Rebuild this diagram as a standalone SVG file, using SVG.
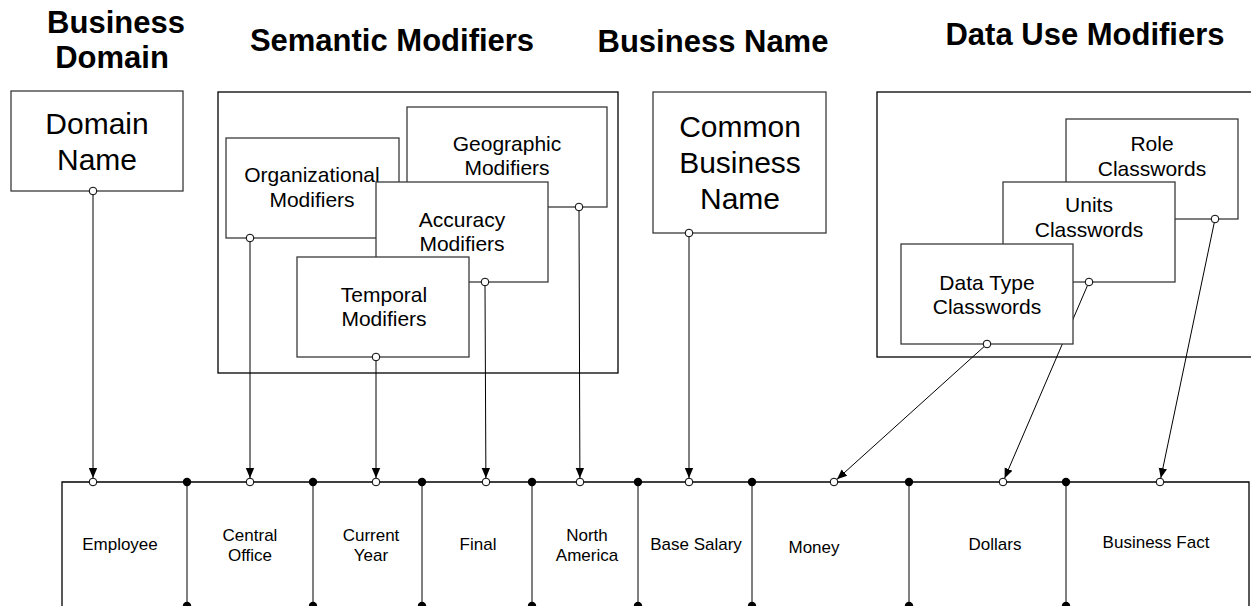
<svg xmlns="http://www.w3.org/2000/svg" width="1251" height="606" viewBox="0 0 1251 606">
<style>
text{font-family:"Liberation Sans",Arial,sans-serif;fill:#000;text-anchor:middle}
.h{font-size:31px;font-weight:bold}
.big{font-size:30px}
.mid{font-size:21px}
.sm{font-size:17px}
.box{fill:#fff;stroke:#3a3a3a;stroke-width:1.3}
.outer{fill:#fff;stroke:#000;stroke-width:1.3}
.con{stroke:#000;stroke-width:1;fill:none}
.oc{fill:#fff;stroke:#000;stroke-width:1}
.fd{fill:#000}
.row{fill:none;stroke:#000;stroke-width:1.3}
</style>
<defs>
<marker id="arr" viewBox="0 0 10 10" refX="10" refY="5" markerWidth="10" markerHeight="10" markerUnits="userSpaceOnUse" orient="auto">
<path d="M0,0.8 L10,5 L0,9.2 Z" fill="#000"/>
</marker>
</defs>
<rect width="1251" height="606" fill="#fff"/>
<g id="headers">
<text class="h" x="116" y="33">Business</text>
<text class="h" x="112" y="68">Domain</text>
<text class="h" x="392" y="51">Semantic Modifiers</text>
<text class="h" x="713" y="52">Business Name</text>
<text class="h" x="1085" y="45">Data Use Modifiers</text>
</g>
<g id="semantic-group"><rect class="outer" x="218" y="92" width="400" height="281"/></g>
<g id="datause-group"><rect class="outer" x="877" y="92" width="420" height="265"/></g>
<g id="connectors">
<line class="con" x1="93" y1="195" x2="93" y2="478" marker-end="url(#arr)"/>
<line class="con" x1="250" y1="242" x2="250" y2="478" marker-end="url(#arr)"/>
<line class="con" x1="376" y1="361" x2="376" y2="478" marker-end="url(#arr)"/>
<line class="con" x1="485" y1="286" x2="485.9" y2="478" marker-end="url(#arr)"/>
<line class="con" x1="579" y1="211" x2="579.9" y2="478" marker-end="url(#arr)"/>
<line class="con" x1="689" y1="237" x2="689" y2="478" marker-end="url(#arr)"/>
<line class="con" x1="984" y1="346.7" x2="837" y2="479.3" marker-end="url(#arr)"/>
<line class="con" x1="1087.4" y1="285.7" x2="1004.6" y2="478.3" marker-end="url(#arr)"/>
<line class="con" x1="1214.2" y1="222.9" x2="1160.8" y2="478.1" marker-end="url(#arr)"/>
</g>
<g id="domain-name">
<rect class="box" x="11" y="91" width="172" height="100"/>
<text class="big" x="97" y="134">Domain</text>
<text class="big" x="97" y="170">Name</text>
<circle class="oc" cx="93" cy="191" r="3.8"/>
</g>
<g id="geographic">
<rect class="box" x="407" y="107" width="200" height="100"/>
<text class="mid" x="507" y="151">Geographic</text>
<text class="mid" x="507" y="175">Modifiers</text>
<circle class="oc" cx="579" cy="207" r="3.8"/>
</g>
<g id="organizational">
<rect class="box" x="226" y="138" width="173" height="100"/>
<text class="mid" x="312" y="182">Organizational</text>
<text class="mid" x="312" y="207">Modifiers</text>
<circle class="oc" cx="250" cy="238" r="3.8"/>
</g>
<g id="accuracy">
<rect class="box" x="376" y="182" width="172" height="100"/>
<text class="mid" x="462" y="227">Accuracy</text>
<text class="mid" x="462" y="251">Modifiers</text>
<circle class="oc" cx="485" cy="282" r="3.8"/>
</g>
<g id="temporal">
<rect class="box" x="297" y="257" width="172" height="100"/>
<text class="mid" x="384" y="302">Temporal</text>
<text class="mid" x="384" y="326">Modifiers</text>
<circle class="oc" cx="376" cy="357" r="3.8"/>
</g>
<g id="common-business-name">
<rect class="box" x="653" y="92" width="173" height="141"/>
<text class="big" x="740" y="137">Common</text>
<text class="big" x="740" y="173">Business</text>
<text class="big" x="740" y="209">Name</text>
<circle class="oc" cx="689" cy="233" r="3.8"/>
</g>
<g id="role-classwords">
<rect class="box" x="1066" y="119" width="172" height="100"/>
<text class="mid" x="1152" y="151">Role</text>
<text class="mid" x="1152" y="176">Classwords</text>
<circle class="oc" cx="1215" cy="219" r="3.8"/>
</g>
<g id="units-classwords">
<rect class="box" x="1003" y="182" width="172" height="100"/>
<text class="mid" x="1089" y="212">Units</text>
<text class="mid" x="1089" y="237">Classwords</text>
<circle class="oc" cx="1089" cy="282" r="3.8"/>
</g>
<g id="datatype-classwords">
<rect class="box" x="901" y="244" width="172" height="100"/>
<text class="mid" x="987" y="290">Data Type</text>
<text class="mid" x="987" y="314">Classwords</text>
<circle class="oc" cx="987" cy="344" r="3.8"/>
</g>
<g id="business-term-row">
<path class="row" d="M62,606 V482 H1249 V606"/>
<g class="con">
<line x1="187" y1="482" x2="187" y2="606"/>
<line x1="313" y1="482" x2="313" y2="606"/>
<line x1="422" y1="482" x2="422" y2="606"/>
<line x1="532" y1="482" x2="532" y2="606"/>
<line x1="638" y1="482" x2="638" y2="606"/>
<line x1="752" y1="482" x2="752" y2="606"/>
<line x1="909" y1="482" x2="909" y2="606"/>
<line x1="1066" y1="482" x2="1066" y2="606"/>
</g>
<g class="fd">
<circle cx="187" cy="482" r="4.2"/><circle cx="313" cy="482" r="4.2"/><circle cx="422" cy="482" r="4.2"/><circle cx="532" cy="482" r="4.2"/><circle cx="638" cy="482" r="4.2"/><circle cx="752" cy="482" r="4.2"/><circle cx="909" cy="482" r="4.2"/><circle cx="1066" cy="482" r="4.2"/>
<circle cx="187" cy="606" r="4.2"/><circle cx="313" cy="606" r="4.2"/><circle cx="422" cy="606" r="4.2"/><circle cx="532" cy="606" r="4.2"/><circle cx="638" cy="606" r="4.2"/><circle cx="752" cy="606" r="4.2"/><circle cx="909" cy="606" r="4.2"/><circle cx="1066" cy="606" r="4.2"/>
</g>
<g>
<circle class="oc" cx="93" cy="482" r="3.8"/><circle class="oc" cx="250" cy="482" r="3.8"/><circle class="oc" cx="376" cy="482" r="3.8"/><circle class="oc" cx="486" cy="482" r="3.8"/><circle class="oc" cx="580" cy="482" r="3.8"/><circle class="oc" cx="689" cy="482" r="3.8"/><circle class="oc" cx="834" cy="482" r="3.8"/><circle class="oc" cx="1003" cy="482" r="3.8"/><circle class="oc" cx="1160" cy="482" r="3.8"/>
</g>
<text class="sm" x="120" y="550">Employee</text>
<text class="sm" x="250" y="541">Central</text>
<text class="sm" x="250" y="561">Office</text>
<text class="sm" x="371" y="541">Current</text>
<text class="sm" x="371" y="561">Year</text>
<text class="sm" x="478" y="550">Final</text>
<text class="sm" x="587" y="541">North</text>
<text class="sm" x="587" y="561">America</text>
<text class="sm" x="696" y="550">Base Salary</text>
<text class="sm" x="814" y="553">Money</text>
<text class="sm" x="995" y="550">Dollars</text>
<text class="sm" x="1156" y="548">Business Fact</text>
</g>
</svg>
